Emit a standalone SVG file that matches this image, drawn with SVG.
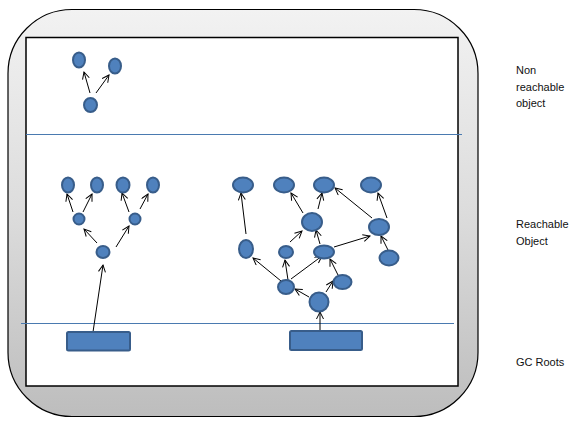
<svg xmlns="http://www.w3.org/2000/svg" width="569" height="432" viewBox="0 0 569 432">
<defs>
<linearGradient id="bg" x1="0" y1="0" x2="0" y2="1">
<stop offset="0" stop-color="#f2f2f2"/>
<stop offset="0.5" stop-color="#dcdcdc"/>
<stop offset="1" stop-color="#bdbdbd"/>
</linearGradient>
<marker id="arr" markerWidth="10" markerHeight="10" refX="8" refY="4" orient="auto" markerUnits="userSpaceOnUse">
<path d="M1,0.5 L8,4 L1,7.5" fill="none" stroke="#000" stroke-width="1"/>
</marker>
</defs>
<style>
.obj{fill:#4f81bd;stroke:#385d8a;stroke-width:2}
.root{fill:#4f81bd;stroke:#385d8a;stroke-width:2}
.sep{stroke:#4a7ab0;stroke-width:1}
.e{stroke:#000;stroke-width:1;fill:none;marker-end:url(#arr)}
.lbl{font-family:"Liberation Sans",Arial,sans-serif;font-size:11px;fill:#111}
</style>
<rect width="569" height="432" fill="#fff"/>
<g id="frame">
<rect x="8" y="9.5" width="470" height="407" rx="64" ry="64" fill="url(#bg)" stroke="#000" stroke-width="1.2"/>
<rect x="26" y="37.5" width="432" height="348.5" fill="#fff" stroke="#000" stroke-width="1.5"/>
<line class="sep" x1="26" y1="134.5" x2="462" y2="134.5"/>
<line class="sep" x1="21" y1="323.5" x2="454" y2="323.5"/>
</g>
<g id="connectors">
<!-- non reachable -->
<line class="e" x1="90" y1="93" x2="84" y2="72"/>
<line class="e" x1="96" y1="93" x2="109" y2="75"/>
<!-- left tree -->
<line class="e" x1="73" y1="212" x2="67" y2="194"/>
<line class="e" x1="83" y1="212" x2="92" y2="194"/>
<line class="e" x1="129" y1="212" x2="122" y2="193"/>
<line class="e" x1="140" y1="209" x2="148" y2="194"/>
<line class="e" x1="97" y1="243" x2="84" y2="229"/>
<line class="e" x1="116" y1="247" x2="129" y2="226"/>
<line class="e" x1="93" y1="332" x2="103" y2="265"/>
<!-- right graph -->
<line class="e" x1="246" y1="234" x2="241" y2="193"/>
<line class="e" x1="303" y1="213" x2="291" y2="193"/>
<line class="e" x1="318" y1="209" x2="322" y2="193"/>
<line class="e" x1="372" y1="218" x2="335" y2="188"/>
<line class="e" x1="387" y1="218" x2="378" y2="193"/>
<line class="e" x1="290" y1="242" x2="302" y2="231"/>
<line class="e" x1="320" y1="244" x2="316" y2="230"/>
<line class="e" x1="334" y1="247" x2="370" y2="236"/>
<line class="e" x1="388" y1="250" x2="381" y2="236"/>
<line class="e" x1="281" y1="281" x2="253" y2="258"/>
<line class="e" x1="288" y1="280" x2="285" y2="260"/>
<line class="e" x1="291" y1="279" x2="322" y2="256"/>
<line class="e" x1="338" y1="275" x2="330" y2="259"/>
<line class="e" x1="309" y1="297" x2="295" y2="289"/>
<line class="e" x1="326" y1="292" x2="333" y2="281"/>
<line class="e" x1="320" y1="331" x2="320" y2="312"/>
</g>
<g id="nonreachable">
<ellipse class="obj" cx="79" cy="60" rx="6" ry="7.5"/>
<ellipse class="obj" cx="115" cy="66" rx="6" ry="7.5"/>
<ellipse class="obj" cx="90.5" cy="105" rx="6.5" ry="7"/>
</g>
<g id="lefttree">
<ellipse class="obj" cx="68" cy="185" rx="6" ry="7.5"/>
<ellipse class="obj" cx="97" cy="185" rx="6" ry="7.5"/>
<ellipse class="obj" cx="123" cy="185" rx="6.5" ry="7.5"/>
<ellipse class="obj" cx="153" cy="185" rx="6" ry="7.5"/>
<ellipse class="obj" cx="79" cy="219" rx="5.5" ry="5.5"/>
<ellipse class="obj" cx="135" cy="219" rx="5.5" ry="5.5"/>
<ellipse class="obj" cx="103" cy="252" rx="6.5" ry="6"/>
<rect id="root1" class="root" x="67" y="332" width="63" height="18.5" rx="1.5"/>
</g>
<g id="rightgraph">
<ellipse class="obj" cx="243" cy="185" rx="10" ry="7.5"/>
<ellipse class="obj" cx="284" cy="185" rx="10" ry="7.5"/>
<ellipse class="obj" cx="324" cy="185" rx="10" ry="7.5"/>
<ellipse class="obj" cx="371" cy="185" rx="10" ry="7.5"/>
<ellipse class="obj" cx="312" cy="222" rx="10" ry="9"/>
<ellipse class="obj" cx="379" cy="227" rx="10" ry="8"/>
<ellipse class="obj" cx="246" cy="249" rx="7" ry="9"/>
<ellipse class="obj" cx="286" cy="252" rx="7" ry="6"/>
<ellipse class="obj" cx="324" cy="252" rx="10" ry="6.5"/>
<ellipse class="obj" cx="389" cy="258" rx="9.5" ry="7.5"/>
<ellipse class="obj" cx="342.5" cy="282" rx="9" ry="7"/>
<ellipse class="obj" cx="286" cy="287" rx="8" ry="7"/>
<ellipse class="obj" cx="319" cy="302" rx="9.5" ry="9.5"/>
<rect id="root2" class="root" x="290" y="331" width="72" height="19" rx="1.5"/>
</g>
<g id="labels">
<text class="lbl" x="516" y="74">Non</text>
<text class="lbl" x="516" y="90.5">reachable</text>
<text class="lbl" x="516" y="107">object</text>
<text class="lbl" x="516" y="228">Reachable</text>
<text class="lbl" x="516" y="245">Object</text>
<text class="lbl" x="516" y="366">GC Roots</text>
</g>
</svg>
